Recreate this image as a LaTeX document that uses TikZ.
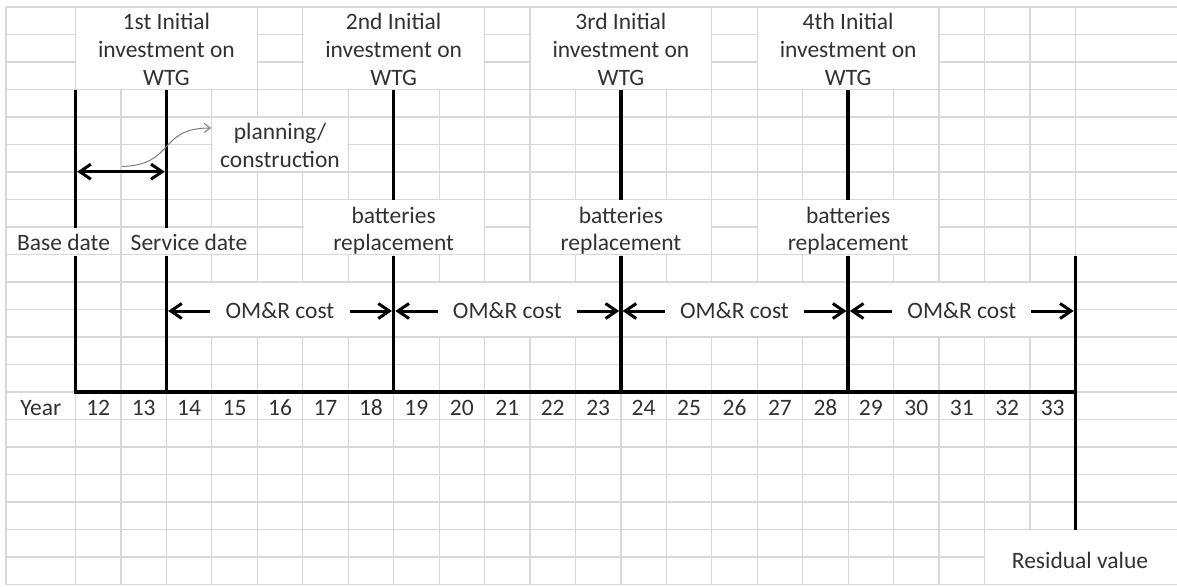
\documentclass[tikz,border=0pt]{standalone}
\usepackage{fontspec}
\setmainfont{Carlito}
\usetikzlibrary{arrows.meta}
\definecolor{gridc}{RGB}{216,216,216}
\definecolor{txt}{RGB}{50,50,50}
\definecolor{curvec}{RGB}{125,125,125}
\newcommand\wbox[4]{\fill[white] ({#1+0.8},{#3+0.8}) rectangle ({#2-0.8},{#4-0.8});}
\begin{document}
\begin{tikzpicture}[x=1pt,y=-1pt,
  gridline/.style={draw=gridc, line width=1.2pt},
  bar/.style={draw=black, line width=3.4pt},
  omarrow/.style={draw=black, line width=3pt, -{Straight Barb[length=11pt,width=15pt]}},
  dblarrow/.style={draw=black, line width=3pt, {Straight Barb[length=11pt,width=15pt]}-{Straight Barb[length=11pt,width=15pt]}},
  curvearrow/.style={draw=curvec, line width=1pt, -{Straight Barb[length=6pt,width=9pt]}},
  lbl/.style={anchor=base, inner sep=0pt, text=txt, font=\fontsize{23.5}{27.5}\selectfont}]
\useasboundingbox (0,0) rectangle (1177,586);
\fill[white] (0,0) rectangle (1177,586);
% spreadsheet grid
\foreach \k in {0,...,21} \draw[gridline] (6,{7+27.5*\k}) -- (1177,{7+27.5*\k});
\draw[gridline] (6,7) -- (6,584.5);
\foreach \n in {0,...,22} \draw[gridline] ({75.5+45.45*\n},7) -- ({75.5+45.45*\n},584.5);
% merged cells / text boxes
\wbox{75.5}{257.3}{7}{89.5}
\wbox{302.75}{484.55}{7}{89.5}
\wbox{530}{711.8}{7}{89.5}
\wbox{757.25}{939.05}{7}{89.5}
\wbox{211.85}{348.2}{117}{172}
\wbox{6}{120.95}{227}{254.5}
\wbox{120.95}{257.3}{227}{254.5}
\wbox{302.75}{484.55}{199.5}{254.5}
\wbox{530}{711.8}{199.5}{254.5}
\wbox{757.25}{939.05}{199.5}{254.5}
\wbox{166.4}{393.65}{282}{337}
\wbox{393.65}{620.9}{282}{337}
\wbox{620.9}{848.15}{282}{337}
\wbox{848.15}{1075.4}{282}{337}
\wbox{984.5}{1180}{529.5}{584.5}
% header texts
\node[lbl] (h1a) at (166.4,30) {1st Initial};
\node[lbl] (h1b) at (166.4,57.5) {investment on};
\node[lbl] (h1c) at (166.4,85) {WTG};
\node[lbl] (h2a) at (393.65,30) {2nd Initial};
\node[lbl] (h2b) at (393.65,57.5) {investment on};
\node[lbl] (h2c) at (393.65,85) {WTG};
\node[lbl] (h3a) at (620.9,30) {3rd Initial};
\node[lbl] (h3b) at (620.9,57.5) {investment on};
\node[lbl] (h3c) at (620.9,85) {WTG};
\node[lbl] (h4a) at (848.15,30) {4th Initial};
\node[lbl] (h4b) at (848.15,57.5) {investment on};
\node[lbl] (h4c) at (848.15,85) {WTG};
% planning / construction
\node[lbl] (pl1) at (280,139.5) {planning/};
\node[lbl] (pl2) at (280,167) {construction};
% dates and batteries
\node[lbl] (base) at (63.5,250) {Base date};
\node[lbl] (serv) at (189,250) {Service date};
\node[lbl] (bat1a) at (393.65,223) {batteries};
\node[lbl] (bat1b) at (393.65,250) {replacement};
\node[lbl] (bat2a) at (620.9,223) {batteries};
\node[lbl] (bat2b) at (620.9,250) {replacement};
\node[lbl] (bat3a) at (848.15,223) {batteries};
\node[lbl] (bat3b) at (848.15,250) {replacement};
% OM&R
\node[lbl] (om1) at (280,318.5) {OM\&R cost};
\node[lbl] (om2) at (507.3,318.5) {OM\&R cost};
\node[lbl] (om3) at (734.5,318.5) {OM\&R cost};
\node[lbl] (om4) at (961.8,318.5) {OM\&R cost};
% year row
\node[lbl] (year) at (40.75,415.5) {Year};
\foreach \n [count=\i from 0] in {12,...,33}
  \node[lbl] (y\n) at ({75.5+45.45*\i+22.725},415.5) {\n};
\node[lbl] (resid) at (1080,568) {Residual value};
% milestone lines
\foreach \x/\nm in {75.5/a,166.4/b,393.65/c,620.9/d,848.15/e,1075.4/f} {
  \coordinate (\nm-top) at (\x,89.5);
  \coordinate (\nm-mid) at (\x,256);
  \coordinate (\nm-bot) at (\x,392);
}
\coordinate (a-gap) at (75.5,228);
\coordinate (b-gap) at (166.4,228);
\coordinate (c-gap) at (393.65,199.5);
\coordinate (d-gap) at (620.9,199.5);
\coordinate (e-gap) at (848.15,199.5);
\coordinate (f-end) at (1075.4,529.5);
\foreach \nm in {a,b,c,d,e} {
  \draw[bar] (\nm-top) -- (\nm-gap);
  \draw[bar] (\nm-mid) -- (\nm-bot);
}
\draw[bar] (f-mid) -- (f-end);
\draw[bar] ([xshift=-1.7pt]a-bot) -- ([xshift=1.7pt]f-bot);
% planning arrows
\coordinate (pal) at (77.2,171.7);
\coordinate (par) at (164.7,171.7);
\draw[dblarrow] (pal) -- (par);
\coordinate (cs) at (122,166.5);
\coordinate (ce) at (211,128);
\draw[curvearrow] (cs) .. controls (175,165) and (158,128) .. (ce);
% OM&R arrows
\foreach \l/\r/\i in {166.4/393.65/1,393.65/620.9/2,620.9/848.15/3,848.15/1075.4/4} {
  \coordinate (ol\i) at ({\l+44},311);
  \coordinate (olt\i) at ({\l+1.7},311);
  \coordinate (or\i) at ({\r-44},311);
  \coordinate (ort\i) at ({\r-1.7},311);
  \draw[omarrow] (ol\i) -- (olt\i);
  \draw[omarrow] (or\i) -- (ort\i);
}
\end{tikzpicture}
\end{document}
